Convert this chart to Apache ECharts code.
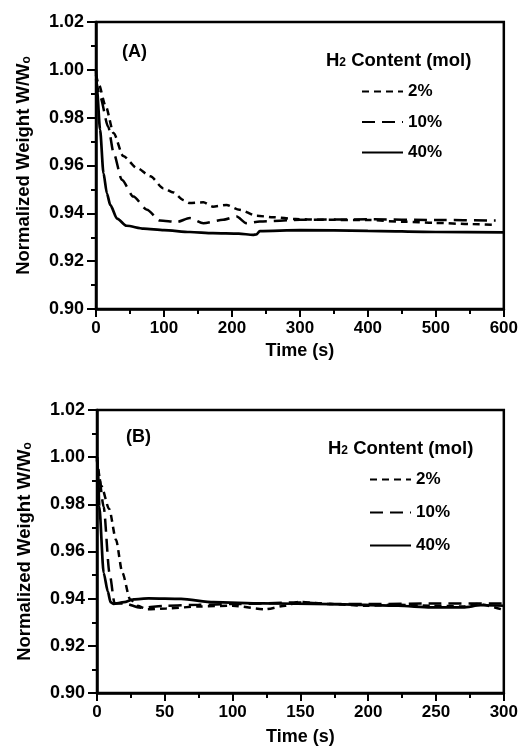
<!DOCTYPE html>
<html>
<head>
<meta charset="utf-8">
<script src="https://cdn.jsdelivr.net/npm/echarts@6/dist/echarts.min.js"></script>
<style>
html,body{margin:0;padding:0;background:#fff;}
#c{width:521px;height:747px;}
</style>
</head>
<body>
<div id="c"></div>
<script>
// ---- Panel A data (time in s, normalized weight) ----
var tA2 = [0, 4, 14, 26, 40, 60, 80, 99, 114, 128, 138, 158, 172, 192, 211, 236, 260, 294, 330, 400, 450, 500, 550, 588];
var wA2 = [0.998, 0.994, 0.985, 0.9735, 0.964, 0.959, 0.9555, 0.9505, 0.9487, 0.9456, 0.9443, 0.9446, 0.9428, 0.9435, 0.9415, 0.939, 0.9384, 0.9376, 0.9373, 0.9372, 0.9365, 0.936, 0.9355, 0.9352];
var tA10 = [0, 6, 18, 26, 38, 55, 75, 94, 119, 138, 158, 187, 207, 221, 241, 300, 400, 500, 588];
var wA10 = [0.996, 0.9888, 0.9762, 0.9651, 0.954, 0.947, 0.9415, 0.937, 0.9364, 0.938, 0.9359, 0.9373, 0.9387, 0.9359, 0.9366, 0.9373, 0.9375, 0.9372, 0.937];
var tA40 = [0, 1.5, 6, 11, 16, 21, 31, 45, 70, 100, 138, 172, 210, 231, 236, 241, 300, 400, 500, 600];
var wA40 = [1.0, 0.9916, 0.975, 0.9568, 0.9484, 0.9435, 0.9378, 0.9348, 0.9336, 0.933, 0.9322, 0.9317, 0.9315, 0.931, 0.9312, 0.9326, 0.933, 0.9327, 0.9322, 0.932];

// ---- Panel B data ----
var tB2 = [0, 3, 9, 14, 18.7, 24.4, 30, 37, 51, 75, 100, 124, 139, 149, 173, 197, 222, 246, 270, 281, 300];
var wB2 = [1.0, 0.988, 0.978, 0.965, 0.951, 0.9397, 0.937, 0.9355, 0.9358, 0.9367, 0.937, 0.9355, 0.937, 0.9386, 0.9377, 0.937, 0.9374, 0.937, 0.9367, 0.9377, 0.9352];
var tB10 = [0, 1.2, 4.9, 9.2, 13, 20, 32, 51, 75, 100, 149, 175, 200, 250, 300];
var wB10 = [0.999, 0.993, 0.979, 0.951, 0.938, 0.938, 0.9362, 0.937, 0.9374, 0.9377, 0.9384, 0.9377, 0.9377, 0.938, 0.938];
var tB40 = [0, 0.8, 1.7, 4.9, 8, 10, 12, 20, 27, 38, 62, 86, 122, 173, 222, 246, 270, 283, 300];
var wB40 = [1.0, 0.993, 0.979, 0.951, 0.943, 0.9385, 0.9378, 0.9385, 0.9397, 0.9401, 0.9399, 0.9385, 0.938, 0.9377, 0.937, 0.9363, 0.9363, 0.9372, 0.937];

var seriesNames = ['2%', '10%', '40%'];
var yTicks = [0.90, 0.92, 0.94, 0.96, 0.98, 1.00, 1.02];
var xMaxA = 600, xStepA = 100;
var xMaxB = 300, xStepB = 50;

function zip(t, w) { return t.map(function (x, i) { return [x, w[i]]; }); }

var FONT = '"Liberation Sans", Arial, Helvetica, sans-serif';
var dashStyles = { '2%': [7, 5], '10%': [13, 7], '40%': 'solid' };

function xAxisDef(idx, max, step, gap) {
  return {
    type: 'value', gridIndex: idx, min: 0, max: max, interval: step,
    name: 'Time (s)', nameLocation: 'middle', nameGap: gap,
    nameTextStyle: { fontFamily: FONT, fontWeight: 'bold', fontSize: 18, color: '#000' },
    axisLine: { show: true, lineStyle: { color: '#000', width: 2.5 } },
    axisTick: { show: true, inside: false, length: 8, lineStyle: { color: '#000', width: 2 } },
    minorTick: { show: true, splitNumber: 2, length: 5, lineStyle: { color: '#000', width: 2 } },
    axisLabel: { fontFamily: FONT, fontWeight: 'bold', fontSize: 17, color: '#000', margin: 11 },
    splitLine: { show: false }, minorSplitLine: { show: false }
  };
}
function yAxisDef(idx) {
  return {
    type: 'value', gridIndex: idx, min: yTicks[0], max: yTicks[yTicks.length - 1], interval: 0.02,
    name: 'Normalized Weight W/W{sub|o}', nameLocation: 'middle', nameGap: 63, nameRotate: 90,
    nameTextStyle: { fontFamily: FONT, fontWeight: 'bold', fontSize: 18.5, color: '#000',
      rich: { sub: { fontFamily: FONT, fontWeight: 'bold', fontSize: 12, color: '#000', padding: [6, 0, 0, 0] } } },
    axisLine: { show: true, lineStyle: { color: '#000', width: 2.5 } },
    axisTick: { show: true, inside: false, length: 9, lineStyle: { color: '#000', width: 2 } },
    minorTick: { show: true, splitNumber: 2, length: 5, lineStyle: { color: '#000', width: 2 } },
    axisLabel: { fontFamily: FONT, fontWeight: 'bold', fontSize: 18, color: '#000', margin: 12,
      formatter: function (v) { return v.toFixed(2); } },
    splitLine: { show: false }, minorSplitLine: { show: false }
  };
}
function lineSeries(name, idx, t, w) {
  return {
    type: 'line', name: name, xAxisIndex: idx, yAxisIndex: idx,
    data: zip(t, w), symbol: 'none', smooth: 0.25, smoothMonotone: 'x',
    lineStyle: { color: '#000', width: name === '40%' ? 2.7 : 2.5, type: dashStyles[name] },
    itemStyle: { color: '#000' }, z: 3
  };
}
var subTitle = { fontFamily: FONT, fontWeight: 'bold', fontSize: 12, color: '#000', padding: [5, 0, 0, 0] };
var legendText = { fontFamily: FONT, fontWeight: 'bold', fontSize: 17, color: '#000' };

var chart = echarts.init(document.getElementById('c'), null, { renderer: 'canvas' });
chart.setOption({
  backgroundColor: '#fff',
  animation: false,
  grid: [
    { left: 96, top: 22, width: 409, height: 287, show: true, borderColor: '#000', borderWidth: 2.5, backgroundColor: 'transparent' },
    { left: 97, top: 410, width: 410, height: 284, show: true, borderColor: '#000', borderWidth: 2.5, backgroundColor: 'transparent' }
  ],
  xAxis: [xAxisDef(0, xMaxA, xStepA, 33), xAxisDef(1, xMaxB, xStepB, 35)],
  yAxis: [yAxisDef(0), yAxisDef(1)],
  title: [
    { text: '(A)', left: 117, top: 38, textStyle: { fontFamily: FONT, fontWeight: 'bold', fontSize: 18, color: '#000' } },
    { text: '(B)', left: 121, top: 423, textStyle: { fontFamily: FONT, fontWeight: 'bold', fontSize: 18, color: '#000' } },
    { text: 'H{s|2} Content (mol)', left: 321, top: 46,
      textStyle: { fontFamily: FONT, fontWeight: 'bold', fontSize: 18.5, color: '#000', rich: { s: subTitle } } },
    { text: 'H{s|2} Content (mol)', left: 323, top: 434,
      textStyle: { fontFamily: FONT, fontWeight: 'bold', fontSize: 18.5, color: '#000', rich: { s: subTitle } } }
  ],
  legend: [
    { data: seriesNames, orient: 'vertical', left: 356, top: 78, itemWidth: 41, itemHeight: 14, itemGap: 13.5,
      itemStyle: { opacity: 0 }, textStyle: legendText, selectedMode: false },
    { data: seriesNames, orient: 'vertical', left: 364, top: 466, itemWidth: 41, itemHeight: 14, itemGap: 16,
      itemStyle: { opacity: 0 }, textStyle: legendText, selectedMode: false }
  ],
  series: [
    lineSeries('2%', 0, tA2, wA2),
    lineSeries('10%', 0, tA10, wA10),
    lineSeries('40%', 0, tA40, wA40),
    lineSeries('2%', 1, tB2, wB2),
    lineSeries('10%', 1, tB10, wB10),
    lineSeries('40%', 1, tB40, wB40)
  ]
});
</script>
</body>
</html>
